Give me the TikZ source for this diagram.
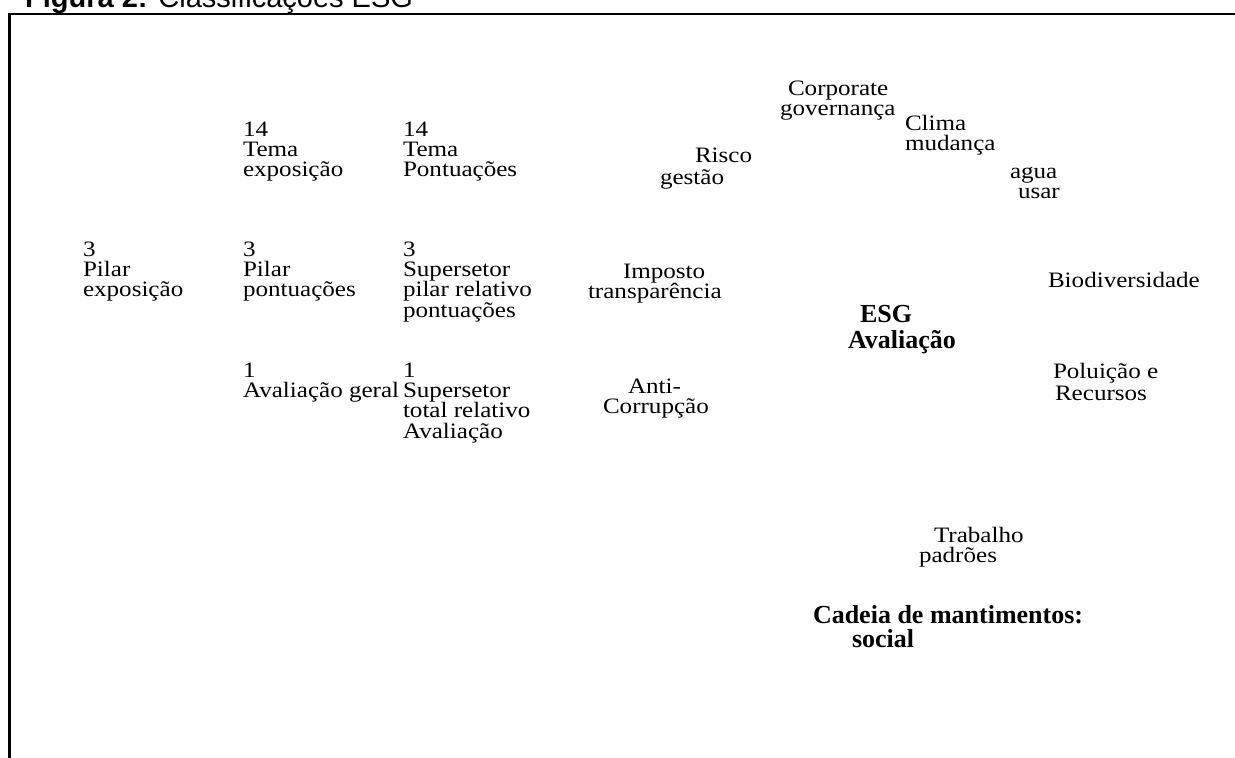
\documentclass[tikz,border=0pt]{standalone}
\usepackage{fontspec}
\setmainfont{Liberation Serif}[FakeStretch=1.14]
\newfontfamily\boldserif{Liberation Serif}
\newfontfamily\titlefont{Liberation Sans}
\newcommand\regtext{\fontsize{22}{20.4}\selectfont\lineskiplimit=-50pt\lineskip=0pt}
\newcommand\boldtext{\boldserif\bfseries\fontsize{26}{25}\selectfont\lineskiplimit=-50pt\lineskip=0pt}
% fixed first-line heights so that node tops sit a known distance above the baseline
\newcommand\regtop{\rule{0pt}{18pt}}
\newcommand\boldtop{\rule{0pt}{22pt}}
\begin{document}
\begin{tikzpicture}[x=1pt,y=-1pt,
  lbl/.style={anchor=north west, inner sep=0pt, outer sep=0pt, align=left,
              font=\regtext, yshift=18pt},
  hdr/.style={anchor=north west, inner sep=0pt, outer sep=0pt, align=left,
              font=\boldtext, yshift=22pt},
  frameline/.style={line width=2.6pt}]
\useasboundingbox (0,0) rectangle (1235,758);

% caption and open frame
\node[anchor=base west, inner sep=0pt, font=\titlefont\fontsize{29}{29}\selectfont]
  (title) at (25,7) {\textbf{Figura 2:} Classificações ESG};
\coordinate (frameBL) at (9.7,775);
\coordinate (frameTL) at (9.7,13.8);
\coordinate (frameTR) at (1250,13.8);
\draw[frameline] (frameBL) -- (frameTL) -- (frameTR);

% counting grid on the left
\node[lbl] (pilexp)  at (83,256)  {\regtop 3\\Pilar\\exposição};
\node[lbl] (temexp)  at (243,136) {\regtop 14\\Tema\\exposição};
\node[lbl] (pilpon)  at (243,256) {\regtop 3\\Pilar\\pontuações};
\node[lbl] (avger)   at (243,377) {\regtop 1\\Avaliação geral};
\node[lbl] (tempon)  at (403,136) {\regtop 14\\Tema\\Pontuações};
\node[lbl] (suppil)  at (403,256) {\regtop 3\\Supersetor\\pilar relativo\\pontuações};
\node[lbl] (suptot)  at (403,377) {\regtop 1\\Supersetor\\total relativo\\Avaliação};

% themes around the rating
\node[lbl] (corpgov) at (780,95)   {\regtop\hspace*{8pt}Corporate\\governança};
\node[lbl] (clima)   at (905,130)  {\regtop Clima\\mudança};
\node[lbl] (risco)   at (660,162)  {\regtop\hspace*{35pt}Risco\\[2.5pt]gestão};
\node[lbl] (agua)    at (1010,178) {\regtop agua\\\hspace*{8pt}usar};
\node[lbl] (imposto) at (588,278)  {\regtop\hspace*{35pt}Imposto\\transparência};
\node[lbl] (biodiv)  at (1048,287) {\regtop Biodiversidade};
\node[lbl] (poluicao) at (1053,378) {\regtop Poluição e\\[2.5pt]\hspace*{2pt}Recursos};
\node[lbl] (anticor) at (603,393)  {\regtop\hspace*{25pt}Anti-\\Corrupção};
\node[lbl] (trabalho) at (919,542) {\regtop\hspace*{15pt}Trabalho\\padrões};

% bold headings
\node[hdr] (esg)    at (848,322) {\boldtop\hspace*{12pt}ESG\\[1pt]Avaliação};
\node[hdr] (cadeia) at (813,623) {\boldtop Cadeia de mantimentos:\\[-1pt]\hspace*{39pt}social};
\end{tikzpicture}
\end{document}
